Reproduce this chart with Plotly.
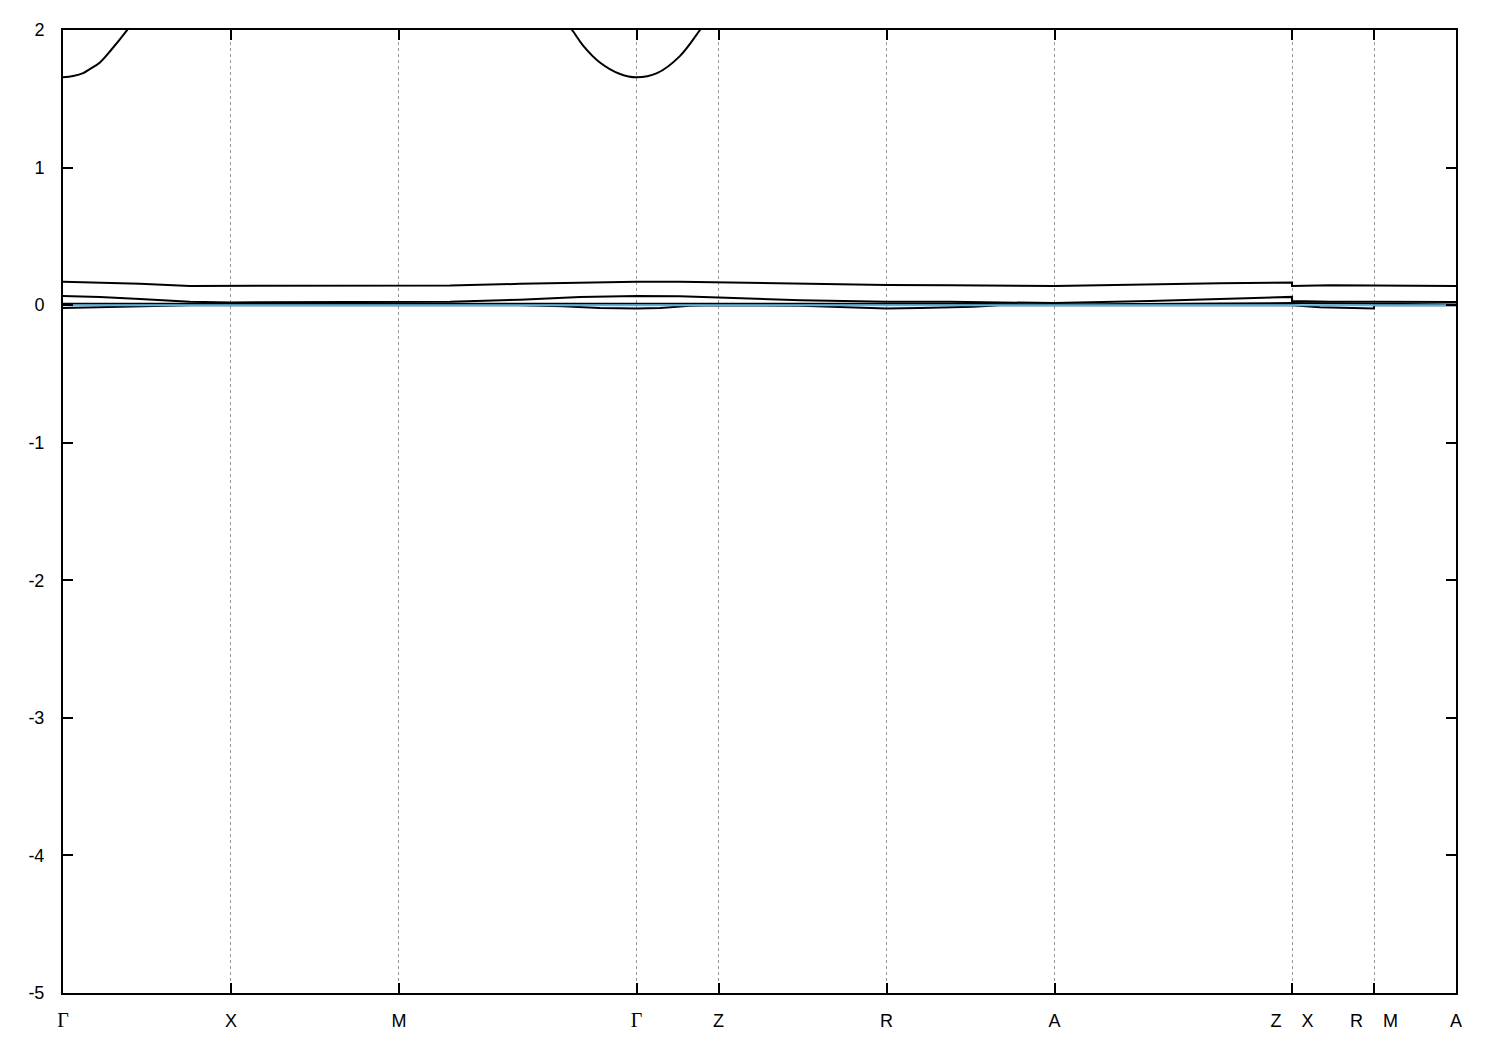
import plotly.graph_objects as go

# High-symmetry points (path coordinate) and labels
TICK_POS = [0.0, 0.5, 1.0, 1.7071, 1.951, 2.451, 2.951, 3.658, 3.902, 4.146]
TICK_LBL = ["Γ", "X", "M", "Γ", "Z", "R", "A", "Z|X", "R|M", "A"]
Y_TICKS = [-5, -4, -3, -2, -1, 0, 1, 2]
Y_TICK_LBL = ["-5", "-4", "-3", "-2", "-1", "0", "1", "2"]

# Bands near the Fermi level (eV)
K_MAIN = [0, 0.110, 0.229, 0.378, 0.5, 0.705, 1.0, 1.152, 1.360, 1.539, 1.707, 1.836, 1.951,
          2.195, 2.451, 2.640, 2.951, 3.086, 3.235, 3.443, 3.658, 3.658, 3.771, 3.902, 4.039, 4.146]
BAND_A = [0.17, 0.165, 0.155, 0.14, 0.14, 0.14, 0.14, 0.142, 0.155, 0.165, 0.17, 0.17, 0.165,
          0.155, 0.147, 0.145, 0.14, 0.145, 0.152, 0.16, 0.165, 0.14, 0.145, 0.145, 0.14, 0.14]
BAND_B = [0.066, 0.06, 0.045, 0.025, 0.02, 0.02, 0.02, 0.025, 0.04, 0.06, 0.067, 0.065, 0.055,
          0.036, 0.025, 0.024, 0.015, 0.02, 0.03, 0.045, 0.06, 0.03, 0.025, 0.025, 0.022, 0.022]
BAND_C = [0.01, 0.01, 0.008, 0.008, 0.008, 0.008, 0.008, 0.008, 0.01, 0.012, 0.012, 0.012, 0.01,
          0.01, 0.012, 0.01, 0.005, 0.008, 0.01, 0.012, 0.015, 0.015, 0.012, 0.01, 0.005, 0.005]

K_D = [0, 0.110, 0.229, 0.378, 0.5, 1.0, 1.360, 1.488, 1.598, 1.707, 1.778, 1.866, 1.951,
       2.195, 2.342, 2.451, 2.551, 2.708, 2.789, 2.951, 3.658, 3.741, 3.902, 3.902, 4.039, 4.146]
BAND_D = [-0.02, -0.015, -0.005, 0.0, 0.0, 0.0, 0.0, -0.008, -0.02, -0.025, -0.02, -0.005, 0.0,
          -0.005, -0.018, -0.024, -0.02, -0.012, 0.0, 0.0, 0.0, -0.015, -0.025, 0.0, 0.0, 0.0]

# Upper band (visible only near Γ)
K_E1 = [0, 0.030, 0.060, 0.080, 0.110, 0.145, 0.189, 0.22]
BAND_E1 = [1.656, 1.665, 1.686, 1.716, 1.764, 1.86, 1.994, 2.1]
K_E2 = [1.479, 1.515, 1.548, 1.598, 1.658, 1.707, 1.768, 1.836, 1.896, 1.926]
BAND_E2 = [2.1, 2.0, 1.887, 1.764, 1.68, 1.656, 1.686, 1.81, 2.0, 2.1]

E_FERMI = 0.0
K_MIN, K_MAX = 0.0, 4.146
Y_MIN, Y_MAX = -5, 2

fig = go.Figure()
black = dict(color="black", width=2)
for k, e in [(K_MAIN, BAND_A), (K_MAIN, BAND_B), (K_MAIN, BAND_C), (K_D, BAND_D)]:
    fig.add_trace(go.Scatter(x=k, y=e, mode="lines", line=black, showlegend=False, hoverinfo="skip"))
for k, e in [(K_E1, BAND_E1), (K_E2, BAND_E2)]:
    fig.add_trace(go.Scatter(x=k, y=e, mode="lines",
                             line=dict(color="black", width=2, shape="spline", smoothing=1.0),
                             showlegend=False, hoverinfo="skip"))
fig.add_trace(go.Scatter(x=[K_MIN, K_MAX], y=[E_FERMI, E_FERMI], mode="lines",
                         line=dict(color="#56B4E9", width=2), showlegend=False, hoverinfo="skip"))

def fmt(lbl):
    if lbl == "Γ":
        return ("<span style='font-family:\"Liberation Serif\", \"DejaVu Serif\", serif;"
                "font-size:20px'>Γ</span>")
    if "|" in lbl:
        a, b = lbl.split("|")
        return a + "\u00a0\u00a0\u00a0\u00a0" + b
    return lbl

fig.update_xaxes(
    range=[K_MIN, K_MAX], tickmode="array", tickvals=TICK_POS, ticktext=[fmt(t) for t in TICK_LBL],
    ticks="inside", ticklen=10, tickwidth=2, tickcolor="black",
    showline=True, linecolor="black", linewidth=2, mirror="allticks",
    showgrid=True, gridcolor="#999999", gridwidth=1, griddash="3px,3px",
    zeroline=False, ticklabelstandoff=10,
    tickfont=dict(family="Liberation Sans, Arial, sans-serif", size=18, color="black"),
)
fig.update_yaxes(
    range=[Y_MIN, Y_MAX], tickmode="array", tickvals=Y_TICKS, ticktext=Y_TICK_LBL,
    ticks="inside", ticklen=10, tickwidth=2, tickcolor="black",
    showline=True, linecolor="black", linewidth=2, mirror="allticks",
    showgrid=False, zeroline=False, ticklabelstandoff=13,
    tickfont=dict(family="Liberation Sans, Arial, sans-serif", size=18, color="black"),
)
fig.update_layout(
    width=1500, height=1050,
    margin=dict(l=55, r=52, t=20, b=65),
    paper_bgcolor="white", plot_bgcolor="white",
    showlegend=False,
)
fig.write_html("out.html")
